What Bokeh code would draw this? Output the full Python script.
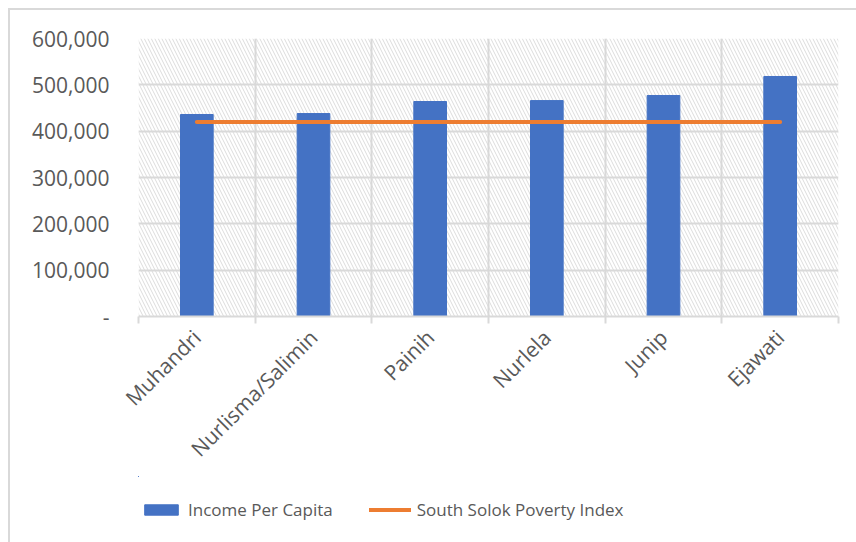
from bokeh.plotting import figure
from bokeh.models import FixedTicker, BoxAnnotation, Legend, LegendItem, ColumnDataSource, Range1d
from bokeh.layouts import column
from bokeh.embed import file_html
from bokeh.resources import INLINE
import math

names = ["Muhandri", "Nurlisma/Salimin", "Painih", "Nurlela", "Junip", "Ejawati"]
income = [436000, 438000, 464000, 466000, 477000, 518000]
poverty_index = [420000, 420000, 420000, 420000, 420000, 420000]
y_ticks = [0, 100000, 200000, 300000, 400000, 500000, 600000]
y_tick_labels = ["-", "100,000", "200,000", "300,000", "400,000", "500,000", "600,000"]
series_names = ["Income Per Capita", "South Solok Poverty Index"]

FONT = "Open Sans"
TXT = "#595959"
GRID = "#d9d9d9"
BAR = "#4472C4"
LINE = "#ED7D31"

xc = [i + 0.5 for i in range(len(names))]
src = ColumnDataSource(dict(x=xc, income=income, pov=poverty_index))

p = figure(width=856, height=476, output_backend="svg", toolbar_location=None,
           x_range=(0, len(names)), y_range=(0, 600000),
           min_border_left=138, min_border_right=18, min_border_top=38, min_border_bottom=160)
p.outline_line_color = None
p.background_fill_color = "white"
p.border_fill_alpha = 0

hatch = BoxAnnotation(fill_alpha=0, line_color=None, hatch_pattern="left_diagonal_line",
                      hatch_color="#dcdcdc", hatch_scale=7, hatch_weight=1, level="image")
p.add_layout(hatch)

p.vbar(x="x", top="income", width=0.28, source=src, color=BAR)
p.line(x="x", y="pov", source=src, line_color=LINE, line_width=4, line_cap="round")

# x axis
p.xaxis.ticker = FixedTicker(ticks=xc, minor_ticks=list(range(len(names) + 1)))
p.xaxis.major_label_overrides = {x: n for x, n in zip(xc, names)}
p.xaxis.major_label_orientation = math.pi / 4
p.xaxis.major_tick_out = 0
p.xaxis.major_tick_in = 0
p.xaxis.minor_tick_out = 7
p.xaxis.minor_tick_in = 0
p.xaxis.minor_tick_line_color = GRID
p.xaxis.minor_tick_line_width = 2
p.xaxis.axis_line_color = GRID
p.xaxis.axis_line_width = 2
p.xaxis.major_label_text_font = FONT
p.xaxis.major_label_text_font_size = "21px"
p.xaxis.major_label_text_color = TXT
p.xaxis.major_label_standoff = 10

p.xgrid.ticker = FixedTicker(ticks=list(range(len(names) + 1)))
p.xgrid.grid_line_color = GRID
p.xgrid.grid_line_width = 2

# y axis
p.yaxis.ticker = FixedTicker(ticks=y_ticks)
p.yaxis.major_label_overrides = {t: l for t, l in zip(y_ticks, y_tick_labels)}
p.yaxis.axis_line_color = None
p.yaxis.major_tick_line_color = None
p.yaxis.minor_tick_line_color = None
p.yaxis.major_label_text_font = FONT
p.yaxis.major_label_text_font_size = "21px"
p.yaxis.major_label_text_color = TXT
p.yaxis.major_label_standoff = 23
p.ygrid.grid_line_color = GRID
p.ygrid.grid_line_width = 2

# legend strip: same series styles, ranges set so the marks fall outside the view
p2 = figure(width=856, height=66, output_backend="svg", toolbar_location=None,
            x_range=Range1d(100, 106), y_range=Range1d(-2000000, -1000000),
            min_border=0, x_axis_location=None, y_axis_location=None)
p2.outline_line_color = None
p2.border_fill_alpha = 0
p2.background_fill_alpha = 0
p2.xgrid.visible = False
p2.ygrid.visible = False
lb = p2.vbar(x="x", top="income", width=0.28, source=src, color=BAR)
ll = p2.line(x="x", y="pov", source=src, line_color=LINE, line_width=4, line_cap="round")

legend = Legend(items=[LegendItem(label=series_names[0], renderers=[lb]),
                       LegendItem(label=series_names[1], renderers=[ll])],
                orientation="horizontal", location=(2, 21),
                glyph_width=42, glyph_height=13, label_standoff=6, spacing=36,
                padding=0, margin=0, border_line_color=None, background_fill_alpha=0,
                label_text_font=FONT, label_text_font_size="17px", label_text_color=TXT)
p2.add_layout(legend, "center")

layout = column(p, p2, spacing=0, styles={
    "background": "linear-gradient(#d9d9d9, #d9d9d9) 8px 8px / 2px 100% no-repeat, "
                  "linear-gradient(#d9d9d9, #d9d9d9) 8px 8px / 100% 2px no-repeat, white"})
open("out.html", "w").write(file_html(layout, INLINE))
